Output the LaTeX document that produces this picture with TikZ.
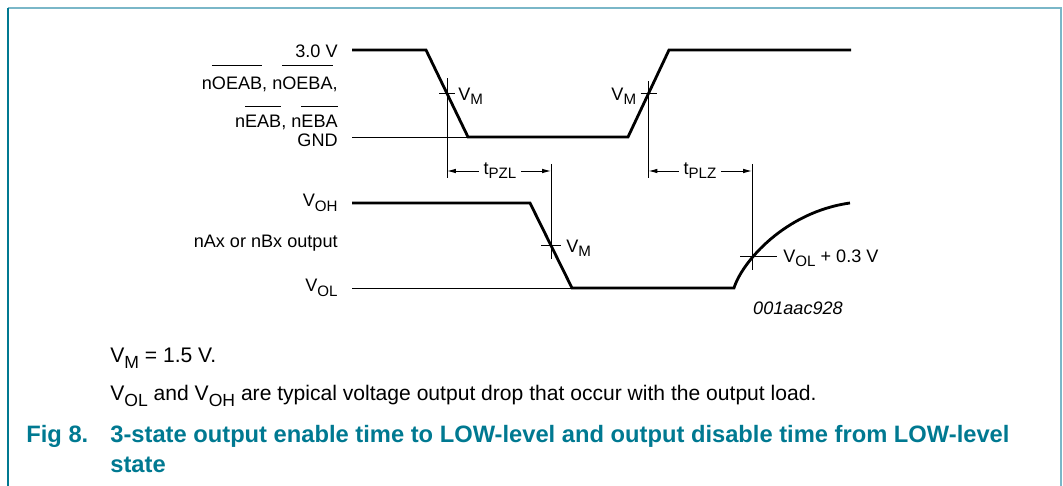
\documentclass[tikz,border=0pt]{standalone}
\usepackage{fontspec}
\setmainfont{Liberation Sans}
\usetikzlibrary{arrows.meta,calc}
\definecolor{nxpteal}{RGB}{0,121,145}
\definecolor{framelight}{RGB}{122,183,200}
\newcommand\lsub[1]{\raisebox{-0.45ex}{\fontsize{8.6}{9}\selectfont #1}}
\newcommand\nsub[1]{\raisebox{-0.45ex}{\fontsize{10}{11}\selectfont #1}}
\newcommand\ovl[2][5pt]{\leavevmode\vbox{\hrule height 0.55pt \kern #1 \hbox{#2}}}
\begin{document}
\begin{tikzpicture}
	[x=0.02cm,y=-0.02cm,
	every node/.style={font=\fontsize{10.3}{12}\selectfont,inner sep=0pt},
	wave/.style={line width=1.6pt,line join=miter},
	guide/.style={line width=0.55pt},
	lbl/.style={anchor=east},
	timearrow/.style={guide,-{Latex[length=5pt,width=2.6pt]}},
	note/.style={anchor=base west,font=\fontsize{12}{14}\selectfont},
	caption/.style={anchor=base west,text=nxpteal,font=\fontsize{13.5}{16}\selectfont\bfseries}]
	\useasboundingbox (0,0) rectangle (1063,486);
	% frame
	\draw[framelight,line width=1.4pt] (8,8) -- (1061,8) -- (1061,486);
	\draw[nxpteal,line width=1.4pt] (8,8) -- (8,486);
	% left labels
	\node[lbl] (high) at (338,51) {3.0 V};
	\node[lbl,anchor=base east] (oe) at (338,90) {n\ovl[6.5pt]{OEAB}, n\ovl[6.5pt]{OEBA},};
	\node[lbl,anchor=base east] (en) at (338,128) {n\ovl{EAB}, n\ovl{EBA}};
	\node[lbl] (gnd) at (338,140) {GND};
	\node[lbl] (voh) at (338,203) {V\lsub{OH}};
	\node[lbl] (out) at (338,243) {nAx or nBx output};
	\node[lbl] (vol) at (338,288) {V\lsub{OL}};
	% input wave
	\coordinate (fallA) at (426,50);
	\coordinate (fallB) at (468,137);
	\coordinate (riseA) at (628,137);
	\coordinate (riseB) at (669,50);
	\draw[wave] (352,50) -- (fallA) -- (fallB) -- (riseA) -- (riseB) -- (851,50);
	\draw[guide] (352,137) -- (fallB);
	\coordinate (vmA) at ($(fallA)!0.5!(fallB)$);
	\coordinate (vmB) at ($(riseA)!0.5!(riseB)$);
	% output wave
	\coordinate (outA) at (530,203);
	\coordinate (outB) at (572,288);
	\coordinate (outC) at (734,288);
	\coordinate (outD) at (850,203);
	\draw[wave] (352,203) -- (outA) -- (outB) -- (outC)
		.. controls (742,262) and (785,212) .. (outD);
	\draw[guide] (352,288) -- (outB);
	\coordinate (vmC) at ($(outA)!0.5!(outB)$);
	\coordinate (volz) at (752,256);
	% time labels
	\node[inner sep=2.5pt] (tpzl) at (500,171) {t\lsub{PZL}};
	\node[inner sep=2.5pt] (tplz) at (700,171) {t\lsub{PLZ}};
	% guides and ticks
	\draw[guide] ($(vmA)+(0,-15)$) -- ($(vmA |- tpzl)+(0,7)$);
	\draw[guide] ($(vmA)+(-8,0)$) -- ($(vmA)+(8,0)$);
	\draw[guide] ($(vmB)+(0,-12)$) -- ($(vmB |- tplz)+(0,7)$);
	\draw[guide] ($(vmB)+(-8,0)$) -- ($(vmB)+(8,0)$);
	\draw[guide] ($(vmC |- tpzl)+(0,-7)$) -- ($(vmC)+(0,14)$);
	\draw[guide] ($(vmC)+(-10,0)$) -- ($(vmC)+(10,0)$);
	\draw[guide] ($(volz |- tplz)+(0,-7)$) -- ($(volz)+(0,14)$);
	\draw[guide] ($(volz)+(-12,0)$) -- ($(volz)+(25,0)$);
	\draw[timearrow] (tpzl.west) -- (vmA |- tpzl);
	\draw[timearrow] (tpzl.east) -- (vmC |- tpzl);
	\draw[timearrow] (tplz.west) -- (vmB |- tplz);
	\draw[timearrow] (tplz.east) -- (volz |- tplz);
	% level labels
	\node[anchor=west] (vmAl) at ($(vmA)+(11,3)$) {V\lsub{M}};
	\node[anchor=east] (vmBl) at ($(vmB)+(-12,3)$) {V\lsub{M}};
	\node[anchor=west] (vmCl) at ($(vmC)+(15,3)$) {V\lsub{M}};
	\node[anchor=west] (volzl) at ($(volz)+(31,2)$) {V\lsub{OL} + 0.3 V};
	\node (code) at (798,308) {\itshape 001aac928};
	% notes and caption
	\node[note] (n1) at (110,363) {V\nsub{M} = 1.5 V.};
	\node[note] (n2) at (110,401) {V\nsub{OL} and V\nsub{OH} are typical voltage output drop that occur with the output load.};
	\node[caption] (fig) at (26,443) {Fig 8.};
	\node[caption] (cap1) at (110,443) {3-state output enable time to LOW-level and output disable time from LOW-level};
	\node[caption] (cap2) at (110,473) {state};
\end{tikzpicture}
\end{document}
